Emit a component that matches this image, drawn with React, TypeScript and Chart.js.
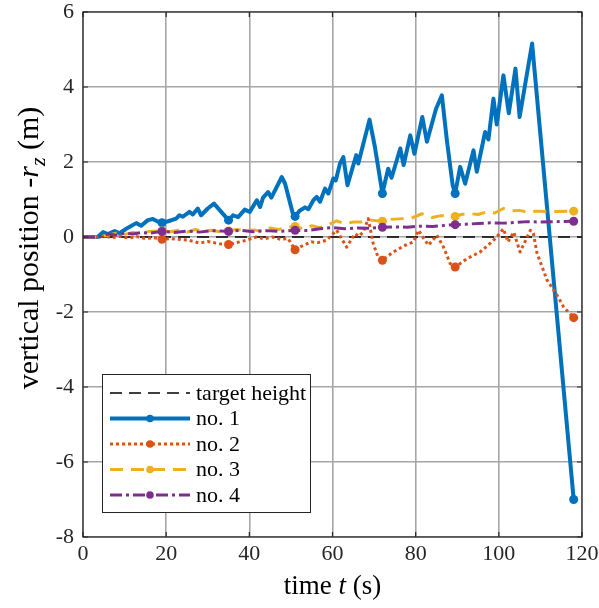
import React, { useEffect, useRef } from "react";
import { Chart, registerables } from "chart.js";

Chart.register(...registerables);

// ---------- data ----------
const X_TICKS = [0, 20, 40, 60, 80, 100, 120];
const Y_TICKS = [-8, -6, -4, -2, 0, 2, 4, 6];
const MARKER_T = [19, 35, 51, 72, 89.5, 118];

const TARGET_T = [0, 120];
const TARGET_Y = [0, 0];

const T1 = [0, 3.5, 4.8, 6, 7.6, 8.8, 10.4, 12.8, 14, 15.6, 16.8, 18.2, 19, 20.5, 22.4, 23.2, 24, 25.6, 26.4, 27.6, 28.4, 30, 31.5, 33.4, 35, 36.1, 37.3, 38.9, 40.1, 41.8, 42.6, 43.3, 44.5, 45.3, 47.8, 48.6, 50.4, 51, 52.1, 53.4, 54.2, 55.4, 56.2, 57, 58.2, 59, 60.2, 60.8, 61.8, 62.6, 63.6, 65.7, 66.2, 68.9, 70.2, 72, 72.7, 73.4, 74.2, 76.3, 77.1, 78.7, 79.7, 81.6, 82.7, 84.9, 86.3, 87.5, 88.9, 89.5, 90.7, 91.9, 93.9, 94.7, 96.7, 97.5, 98.7, 99.5, 101.1, 102.4, 104, 105, 108, 118];
const Y1 = [0, 0, 0.13, 0.08, 0.16, 0.1, 0.22, 0.37, 0.3, 0.45, 0.48, 0.4, 0.38, 0.42, 0.49, 0.58, 0.54, 0.67, 0.6, 0.76, 0.58, 0.76, 0.89, 0.65, 0.45, 0.58, 0.53, 0.73, 0.67, 0.98, 0.8, 1.05, 1.2, 1.05, 1.6, 1.42, 0.65, 0.55, 0.7, 0.79, 0.74, 0.98, 1.07, 0.94, 1.29, 1.16, 1.56, 1.51, 1.96, 2.13, 1.38, 2.18, 1.96, 3.13, 2.4, 1.16, 1.5, 1.82, 1.58, 2.36, 1.92, 2.71, 2.22, 3.2, 2.54, 3.42, 3.78, 2.58, 1.38, 1.16, 1.87, 1.42, 2.31, 1.74, 2.8, 2.6, 3.69, 3.0, 4.31, 3.3, 4.49, 3.2, 5.16, -7.0];

const T2 = [0, 3, 5, 7, 9, 11, 13, 15, 17, 19, 21, 23, 25.6, 28, 30, 32.8, 35, 37.7, 39.5, 41.7, 43.5, 45.5, 47.5, 49.3, 51, 53, 54.9, 56.5, 58.5, 61, 63.4, 65.4, 66.3, 67.4, 68.6, 69.8, 71, 72, 74.6, 77.5, 79.5, 80.7, 82, 83.1, 85.1, 86.7, 88.3, 89.5, 92.3, 95.5, 98.3, 99.5, 101.1, 102.2, 103.6, 105.1, 107.6, 108.3, 109.2, 111.6, 114, 115.6, 118];
const Y2 = [0, 0, 0.03, -0.02, 0.02, -0.03, 0.01, -0.04, -0.02, -0.06, -0.04, -0.06, -0.09, -0.16, -0.12, -0.18, -0.2, -0.13, -0.08, 0, -0.05, 0, -0.06, -0.04, -0.34, -0.22, -0.13, -0.15, -0.09, 0.18, -0.27, 0.09, 0.02, 0.13, 0.49, -0.18, -0.55, -0.62, -0.4, -0.22, -0.13, 0.18, -0.05, -0.22, 0.05, -0.27, -0.71, -0.8, -0.58, -0.4, -0.13, 0, 0.22, -0.13, 0.13, -0.4, 0.18, 0.1, -0.44, -1.15, -1.55, -1.87, -2.15];

const T3 = [0, 4, 6, 8, 10, 12, 14, 16, 19, 21, 23, 25, 27, 29, 31, 33, 35, 37, 39, 41, 43, 45, 47, 49, 51, 53, 55, 57, 59, 61, 63, 65, 67.4, 69, 72, 74, 77, 79, 81.5, 84, 86, 89.5, 91, 92.6, 95, 97.1, 99, 101.1, 103, 105, 107, 109, 112, 118];
const Y3 = [0, 0, 0.05, 0.1, 0.07, 0.12, 0.1, 0.15, 0.16, 0.14, 0.18, 0.13, 0.2, 0.15, 0.18, 0.14, 0.16, 0.2, 0.17, 0.19, 0.15, 0.24, 0.2, 0.26, 0.28, 0.22, 0.3, 0.25, 0.33, 0.43, 0.35, 0.4, 0.4, 0.45, 0.42, 0.47, 0.49, 0.5, 0.62, 0.52, 0.57, 0.55, 0.6, 0.63, 0.6, 0.67, 0.64, 0.76, 0.7, 0.71, 0.66, 0.69, 0.68, 0.69];

const T4 = [0, 4, 6, 8, 10, 12, 14, 16, 19, 22, 25, 28, 31, 35, 38, 41, 44, 47, 51, 54, 57, 60, 63, 66, 69, 72, 75, 78, 81, 84, 87, 89.5, 92, 95, 98, 101, 104, 107, 110, 114, 118];
const Y4 = [0, 0, 0.08, 0.05, 0.1, 0.08, 0.12, 0.1, 0.15, 0.12, 0.16, 0.13, 0.17, 0.15, 0.18, 0.14, 0.17, 0.15, 0.18, 0.17, 0.22, 0.25, 0.22, 0.24, 0.23, 0.26, 0.27, 0.26, 0.29, 0.28, 0.31, 0.33, 0.34, 0.36, 0.38, 0.37, 0.39, 0.41, 0.4, 0.41, 0.42];

const SERIES_LABELS = ["target height", "no. 1", "no. 2", "no. 3", "no. 4"];
const COLORS = ["#000000", "#0072BD", "#D95319", "#EDB120", "#7E2F8E"];

// ---------- styles ----------
const FONT = "'Liberation Serif', 'Times New Roman', serif";
const AXIS_COLOR = "#262626";
const GRID_COLOR = "#a6a6a6";
const DASHES: number[][] = [[12, 7], [], [3, 3], [13, 8], [12, 4, 3, 4]];
const WIDTHS = [1.6, 4, 3, 3, 3];

const zip = (t: number[], y: number[]) => t.map((x, i) => ({ x, y: y[i] }));

const overlay = {
  id: "overlay",
  afterDatasetsDraw(chart: any) {
    const { ctx, chartArea } = chart;
    const { left, right, top, bottom } = chartArea;
    const xs = chart.scales.x;
    const ys = chart.scales.y;
    ctx.save();
    // box
    ctx.strokeStyle = AXIS_COLOR;
    ctx.lineWidth = 1.2;
    ctx.setLineDash([]);
    ctx.strokeRect(left, top, right - left, bottom - top);
    // inner ticks
    ctx.beginPath();
    X_TICKS.forEach((v) => {
      const px = xs.getPixelForValue(v);
      ctx.moveTo(px, bottom);
      ctx.lineTo(px, bottom - 5);
      ctx.moveTo(px, top);
      ctx.lineTo(px, top + 5);
    });
    Y_TICKS.forEach((v) => {
      const py = ys.getPixelForValue(v);
      ctx.moveTo(left, py);
      ctx.lineTo(left + 5, py);
      ctx.moveTo(right, py);
      ctx.lineTo(right - 5, py);
    });
    ctx.stroke();

    // legend
    const lx = 102, ly = 374, lw = 208, lh = 138;
    ctx.fillStyle = "#ffffff";
    ctx.fillRect(lx, ly, lw, lh);
    ctx.strokeStyle = AXIS_COLOR;
    ctx.lineWidth = 1;
    ctx.strokeRect(lx + 0.5, ly + 0.5, lw, lh);
    const rowY = [393, 418.5, 444, 469.5, 495];
    ctx.font = `22px ${FONT}`;
    ctx.textBaseline = "middle";
    ctx.textAlign = "left";
    SERIES_LABELS.forEach((lab, i) => {
      const y = rowY[i];
      ctx.strokeStyle = COLORS[i];
      ctx.lineWidth = WIDTHS[i];
      ctx.setLineDash(DASHES[i]);
      ctx.lineCap = "butt";
      ctx.beginPath();
      ctx.moveTo(110, y);
      ctx.lineTo(190, y);
      ctx.stroke();
      ctx.setLineDash([]);
      if (i > 0) {
        ctx.fillStyle = COLORS[i];
        ctx.beginPath();
        ctx.arc(150, y, 3.8, 0, Math.PI * 2);
        ctx.fill();
      }
      ctx.fillStyle = "#000000";
      ctx.fillText(lab, 196, y + 1);
    });

    // x title: "time t (s)"
    ctx.fillStyle = "#000000";
    ctx.textBaseline = "alphabetic";
    const f = 27;
    const reg = `${f}px ${FONT}`;
    const ita = `italic ${f}px ${FONT}`;
    const parts: [string, string][] = [["time ", reg], ["t", ita], [" (s)", reg]];
    let total = 0;
    parts.forEach(([s, fo]) => { ctx.font = fo; total += ctx.measureText(s).width; });
    let cx = (left + right) / 2 - total / 2;
    parts.forEach(([s, fo]) => {
      ctx.font = fo;
      ctx.fillText(s, cx, 594);
      cx += ctx.measureText(s).width;
    });

    // y title: "vertical position -r_z (m)"
    const fy = 30;
    const yreg = `${fy}px ${FONT}`;
    const yita = `italic ${fy}px ${FONT}`;
    const sub = `italic ${Math.round(fy * 0.72)}px ${FONT}`;
    const yparts: [string, string, number][] = [
      ["vertical position -", yreg, 0],
      ["r", yita, 0],
      ["z", sub, 7],
      [" (m)", yreg, 0],
    ];
    let ytotal = 0;
    yparts.forEach(([s, fo]) => { ctx.font = fo; ytotal += ctx.measureText(s).width; });
    ctx.translate(38, 248);
    ctx.rotate(-Math.PI / 2);
    let ty = -ytotal / 2;
    yparts.forEach(([s, fo, dy]) => {
      ctx.font = fo;
      ctx.fillText(s, ty, dy);
      ty += ctx.measureText(s).width;
    });
    ctx.restore();
  },
};

export default function App() {
  const ref = useRef<HTMLCanvasElement | null>(null);
  useEffect(() => {
    if (!ref.current) return;
    const series = [
      zip(TARGET_T, TARGET_Y),
      zip(T1, Y1),
      zip(T2, Y2),
      zip(T3, Y3),
      zip(T4, Y4),
    ];
    const datasets = series.map((data, i) => ({
      label: SERIES_LABELS[i],
      data,
      borderColor: COLORS[i],
      backgroundColor: COLORS[i],
      borderWidth: WIDTHS[i],
      borderDash: DASHES[i],
      borderCapStyle: "butt" as const,
      borderJoinStyle: "round" as const,
      tension: 0,
      fill: false,
      order: 5 - i,
      pointBorderWidth: 0,
      pointHoverRadius: 0,
      pointRadius: i === 0 ? 0 : (c: any) => (c.raw && MARKER_T.includes(c.raw.x) ? 4.5 : 0),
    }));
    const tickFont = { family: FONT, size: 22 };
    const chart = new Chart(ref.current, {
      type: "line",
      data: { datasets },
      options: {
        responsive: false,
        animation: false,
        layout: { padding: { left: 0, right: 17, top: 12, bottom: 0 } },
        plugins: { legend: { display: false }, tooltip: { enabled: false } },
        scales: {
          x: {
            type: "linear",
            min: 0,
            max: 120,
            afterFit: (s: any) => { s.height = 71; s.paddingLeft = 0; s.paddingRight = 0; },
            afterBuildTicks: (s: any) => { s.ticks = X_TICKS.map((v) => ({ value: v })); },
            ticks: { font: tickFont, color: AXIS_COLOR, padding: 4, maxRotation: 0 },
            grid: { color: GRID_COLOR, lineWidth: 1.6, drawTicks: false },
            border: { display: false },
          },
          y: {
            type: "linear",
            min: -8,
            max: 6,
            afterFit: (s: any) => { s.width = 83; s.paddingTop = 0; s.paddingBottom = 0; },
            afterBuildTicks: (s: any) => { s.ticks = Y_TICKS.map((v) => ({ value: v })); },
            ticks: { font: tickFont, color: AXIS_COLOR, padding: 9 },
            grid: { color: GRID_COLOR, lineWidth: 1.6, drawTicks: false },
            border: { display: false },
          },
        },
      },
      plugins: [overlay],
    });
    return () => chart.destroy();
  }, []);
  return (
    <div style={{ position: "absolute", left: 0, top: 0, width: 599, height: 608, background: "#fff" }}>
      <canvas ref={ref} width={599} height={608} style={{ display: "block" }} />
    </div>
  );
}
